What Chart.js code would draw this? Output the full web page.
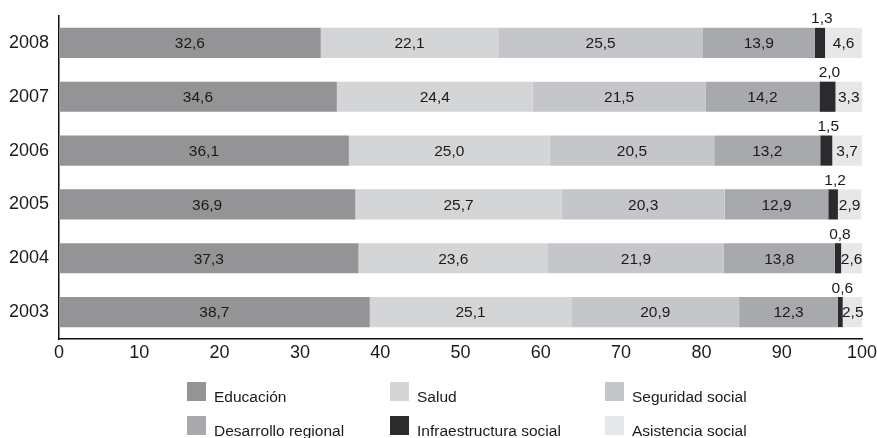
<!DOCTYPE html>
<html>
<head>
<meta charset="utf-8">
<script src="https://cdn.jsdelivr.net/npm/chart.js@4/dist/chart.umd.min.js"></script>
<style>
  body { margin: 0; background: #fff; }
</style>
</head>
<body>
<canvas id="myChart" width="877" height="438"></canvas>
<script>
const years = ["2008", "2007", "2006", "2005", "2004", "2003"];
const educacion = [32.6, 34.6, 36.1, 36.9, 37.3, 38.7];
const salud = [22.1, 24.4, 25.0, 25.7, 23.6, 25.1];
const seguridad = [25.5, 21.5, 20.5, 20.3, 21.9, 20.9];
const desarrollo = [13.9, 14.2, 13.2, 12.9, 13.8, 12.3];
const infraestructura = [1.3, 2.0, 1.5, 1.2, 0.8, 0.6];
const asistencia = [4.6, 3.3, 3.7, 2.9, 2.6, 2.5];

const seriesNames = [
  "Educación",
  "Salud",
  "Seguridad social",
  "Desarrollo regional",
  "Infraestructura social",
  "Asistencia social",
];
const seriesColors = ["#949497", "#d4d5d7", "#c5c6c9", "#a8a9ac", "#2b2a2d", "#e6e7e9"];
const seriesData = [educacion, salud, seguridad, desarrollo, infraestructura, asistencia];

const FONT = '"Liberation Sans", Arial, sans-serif';
const TEXT = "#1a1a1a";

const fmt = (v) => v.toFixed(1).replace(".", ",");

// value labels: centred in each segment, the thin dark one goes above the bar
const barLabels = {
  id: "barLabels",
  afterDatasetsDraw(chart) {
    const ctx = chart.ctx;
    ctx.save();
    ctx.font = "15.5px " + FONT;
    ctx.fillStyle = TEXT;
    ctx.textAlign = "center";
    chart.data.datasets.forEach((ds, i) => {
      const meta = chart.getDatasetMeta(i);
      meta.data.forEach((bar, j) => {
        const p = bar.getProps(["x", "y", "base", "height"], true);
        const cx = (p.x + p.base) / 2;
        const txt = fmt(ds.data[j]);
        if (i === 4) {
          ctx.textBaseline = "bottom";
          ctx.fillText(txt, cx + 2, p.y - p.height / 2 - 1);
        } else {
          ctx.textBaseline = "middle";
          ctx.fillText(txt, cx, p.y + 1);
        }
      });
    });
    ctx.restore();
  },
};

// legend in three columns, two rows under the axis
const gridLegend = {
  id: "gridLegend",
  afterDraw(chart) {
    const ctx = chart.ctx;
    const cols = [187, 390, 605];
    const rows = [382, 416];
    ctx.save();
    ctx.font = "15.5px " + FONT;
    ctx.textBaseline = "alphabetic";
    ctx.textAlign = "left";
    chart.data.datasets.forEach((ds, i) => {
      const x = cols[i % 3];
      const y = rows[Math.floor(i / 3)];
      ctx.fillStyle = ds.backgroundColor;
      ctx.fillRect(x, y, 19, 19);
      ctx.fillStyle = TEXT;
      ctx.fillText(ds.label, x + 27, y + 20);
    });
    ctx.restore();
  },
};

const ctx = document.getElementById("myChart");
const myChart = new Chart(ctx, {
  type: "bar",
  data: {
    labels: years,
    datasets: seriesNames.map((name, i) => ({
      label: name,
      data: seriesData[i],
      backgroundColor: seriesColors[i],
      borderWidth: 0,
      barPercentage: 0.56,
      categoryPercentage: 1,
    })),
  },
  options: {
    indexAxis: "y",
    responsive: false,
    animation: false,
    layout: {
      padding: { top: 16, right: 15, bottom: 58, left: 0 },
    },
    plugins: {
      legend: { display: false },
      tooltip: { enabled: false },
    },
    scales: {
      x: {
        stacked: true,
        min: 0,
        max: 100,
        ticks: {
          stepSize: 10,
          color: TEXT,
          font: { family: FONT, size: 18 },
          padding: 3,
        },
        grid: { display: false, drawTicks: false },
        border: { color: "#111", width: 1.5 },
        afterFit(scale) {
          scale.height = 41;
          scale.paddingLeft = 0;
          scale.paddingRight = 0;
        },
      },
      y: {
        stacked: true,
        ticks: {
          color: TEXT,
          font: { family: FONT, size: 18 },
          padding: 10,
        },
        grid: { display: false, drawTicks: false },
        border: { color: "#111", width: 1.5 },
        afterFit(scale) {
          scale.width = 59;
          scale.paddingTop = 0;
          scale.paddingBottom = 0;
        },
      },
    },
  },
  plugins: [barLabels, gridLegend],
});
</script>
</body>
</html>
